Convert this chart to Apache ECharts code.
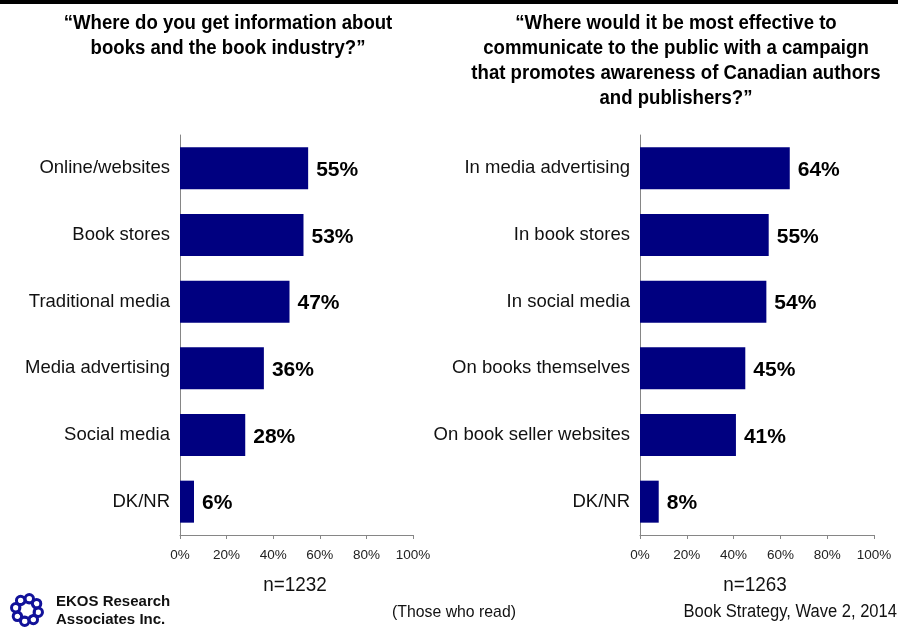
<!DOCTYPE html>
<html>
<head>
<meta charset="utf-8">
<script src="https://cdn.jsdelivr.net/npm/echarts@6/dist/echarts.min.js"></script>
<style>
  html, body { margin: 0; padding: 0; background: #ffffff; }
  #chart { width: 898px; height: 629px; }
</style>
</head>
<body>
<div id="chart"></div>
<script>
// Left panel: sources of information about books
const infoCategories = ['Online/websites', 'Book stores', 'Traditional media', 'Media advertising', 'Social media', 'DK/NR'];
const infoValues = [55, 53, 47, 36, 28, 6];

// Right panel: most effective channels for an awareness campaign
const campaignCategories = ['In media advertising', 'In book stores', 'In social media', 'On books themselves', 'On book seller websites', 'DK/NR'];
const campaignValues = [64, 55, 54, 45, 41, 8];

const axisTicks = [0, 20, 40, 60, 80, 100];

const leftTitle = '\u201cWhere do you get information about\nbooks and the book industry?\u201d';
const rightTitle = '\u201cWhere would it be most effective to\ncommunicate to the public with a campaign\nthat promotes awareness of Canadian authors\nand publishers?\u201d';

const BAR = '#000080';
const AXIS = '#868686';
const FONT = '"Liberation Sans", Arial, sans-serif';

const chart = echarts.init(document.getElementById('chart'), null, { renderer: 'canvas' });

function xAxisFor(gridIndex) {
  return {
    gridIndex: gridIndex,
    type: 'value',
    min: axisTicks[0],
    max: axisTicks[axisTicks.length - 1],
    interval: axisTicks[1] - axisTicks[0],
    splitLine: { show: false },
    axisLine: { show: true, lineStyle: { color: AXIS, width: 1 } },
    axisTick: { show: true, length: 4, lineStyle: { color: AXIS } },
    axisLabel: { formatter: '{value}%', color: '#222', fontFamily: FONT, fontSize: 13.5, margin: 13 }
  };
}

function yAxisFor(gridIndex, cats) {
  return {
    gridIndex: gridIndex,
    type: 'category',
    inverse: true,
    data: cats,
    axisLine: { show: true, lineStyle: { color: AXIS, width: 1 } },
    axisTick: { show: false },
    axisLabel: { color: '#111', fontFamily: FONT, fontSize: 18.5, margin: 10, padding: [5, 0, 0, 0] }
  };
}

function barSeries(index, values) {
  return {
    type: 'bar',
    xAxisIndex: index,
    yAxisIndex: index,
    data: values,
    barCategoryGap: '37%',
    itemStyle: { color: BAR },
    label: {
      show: true,
      position: 'right',
      distance: 8,
      offset: [0, 2],
      formatter: '{c}%',
      color: '#000',
      fontFamily: FONT,
      fontWeight: 'bold',
      fontSize: 21
    },
    silent: true
  };
}

// Horizontally condensed text block
function narrowText(x, y, text, size, opts) {
  opts = opts || {};
  return {
    type: 'text',
    x: x,
    y: y,
    scaleX: opts.scaleX || 0.92,
    style: {
      text: text,
      x: 0,
      y: 0,
      fontFamily: FONT,
      fontWeight: opts.bold ? 'bold' : 'normal',
      fontSize: size,
      lineHeight: opts.lineHeight || size * 1.2,
      fill: opts.color || '#111',
      align: opts.align || 'center',
      verticalAlign: opts.vAlign || 'middle'
    }
  };
}

// Logo mark: a ring of linked blue loops
const logoChildren = [];
const lcx = 27, lcy = 610, lr = 11.5;
for (let i = 0; i < 8; i++) {
  const a = i * Math.PI / 4 + 0.2;
  const x = lcx + lr * Math.cos(a), y = lcy + lr * Math.sin(a);
  logoChildren.push({ type: 'circle', shape: { cx: x, cy: y, r: 4.2 }, style: { fill: 'none', stroke: '#12129a', lineWidth: 3 } });
}
logoChildren.push({ type: 'circle', shape: { cx: lcx, cy: lcy, r: 8 }, style: { fill: 'none', stroke: '#12129a', lineWidth: 2.2 } });

chart.setOption({
  animation: false,
  backgroundColor: '#ffffff',
  grid: [
    { left: 180, width: 233, top: 135, height: 400, containLabel: false },
    { left: 640, width: 234, top: 135, height: 400, containLabel: false }
  ],
  xAxis: [xAxisFor(0), xAxisFor(1)],
  yAxis: [yAxisFor(0, infoCategories), yAxisFor(1, campaignCategories)],
  series: [barSeries(0, infoValues), barSeries(1, campaignValues)],
  graphic: [
    { type: 'rect', shape: { x: 0, y: 0, width: 898, height: 4 }, style: { fill: '#000' } },
    narrowText(228, 11, leftTitle, 20, { bold: true, lineHeight: 25, vAlign: 'top', scaleX: 0.93, color: '#000' }),
    narrowText(676, 11, rightTitle, 20, { bold: true, lineHeight: 25, vAlign: 'top', scaleX: 0.93, color: '#000' }),
    narrowText(295, 585, 'n=1232', 21, { scaleX: 0.9 }),
    narrowText(755, 585, 'n=1263', 21, { scaleX: 0.9 }),
    narrowText(454, 612, '(Those who read)', 17, { scaleX: 0.93 }),
    narrowText(897, 612, 'Book Strategy, Wave 2, 2014', 18, { scaleX: 0.92, align: 'right' }),
    { type: 'text', x: 56, y: 602, style: { text: 'EKOS Research', fontFamily: FONT, fontWeight: 'bold', fontSize: 15, fill: '#111', verticalAlign: 'middle' } },
    { type: 'text', x: 56, y: 620, style: { text: 'Associates Inc.', fontFamily: FONT, fontWeight: 'bold', fontSize: 15, fill: '#111', verticalAlign: 'middle' } },
    { type: 'group', children: logoChildren }
  ]
});
</script>
</body>
</html>
